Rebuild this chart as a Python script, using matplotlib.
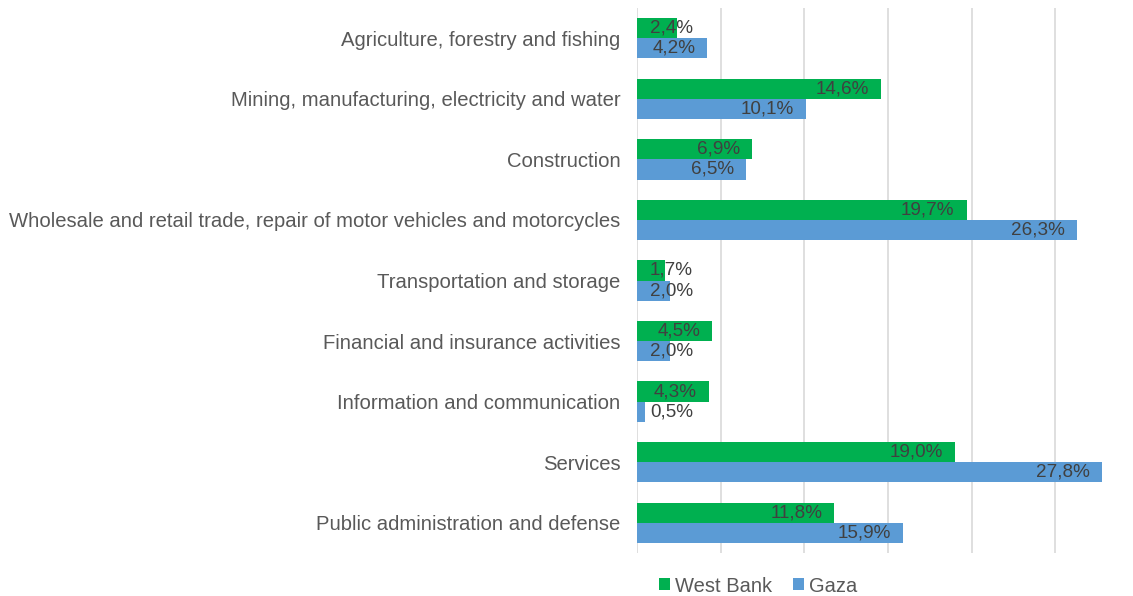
import numpy as np
import matplotlib
matplotlib.use("Agg")
import matplotlib.pyplot as plt

plt.rcParams['font.family'] = ['Liberation Sans', 'DejaVu Sans']

categories = [
    "Agriculture, forestry and fishing",
    "Mining, manufacturing, electricity and water",
    "Construction",
    "Wholesale and retail trade, repair of motor vehicles and motorcycles",
    "Transportation and storage",
    "Financial and insurance activities",
    "Information and communication",
    "Services",
    "Public administration and defense",
]
west_bank = [2.4, 14.6, 6.9, 19.7, 1.7, 4.5, 4.3, 19.0, 11.8]
gaza = [4.2, 10.1, 6.5, 26.3, 2.0, 2.0, 0.5, 27.8, 15.9]
grid_ticks = [0, 5, 10, 15, 20, 25]

GREEN = "#00B050"
BLUE = "#5B9BD5"
W, H = 1133, 596

fig = plt.figure(figsize=(W / 100, H / 100), dpi=100)
ax = fig.add_axes([637 / W, 1 - 553 / H, (1133 - 637) / W, (553 - 8) / H])

y = np.arange(len(categories))
bh = 1 / 3
ax.barh(y - bh / 2, west_bank, height=bh, color=GREEN, label="West Bank", zorder=3)
ax.barh(y + bh / 2, gaza, height=bh, color=BLUE, label="Gaza", zorder=3)

ax.set_xlim(0, 29.65)
ax.set_ylim(len(categories) - 0.5, -0.5)
ax.set_xticks(grid_ticks)
ax.xaxis.grid(True, color="#D9D9D9", linewidth=1.2, zorder=0)
ax.tick_params(axis="x", length=0, labelbottom=False)
ax.tick_params(axis="y", length=0, pad=12, labelsize=14.6, labelcolor="#595959")
ax.set_yticks(y)
ax.set_yticklabels(categories)
for s in ["top", "right", "bottom", "left"]:
    ax.spines[s].set_visible(False)


def fmt(v):
    return f"{v:.1f}".replace(".", ",") + "%"


# value labels at the inside end, kept clear of the axis for short bars
for offs, vals in ((-bh / 2, west_bank), (bh / 2, gaza)):
    for yi, v in zip(y, vals):
        ax.annotate(fmt(v), (max(v, 4.05), yi + offs), xytext=(-8.6, 0),
                    textcoords="offset points", ha="right", va="center",
                    fontsize=13.6, color="#404040", zorder=4)

fig.legend(loc="center", bbox_to_anchor=(758 / W, 1 - 586 / H), ncol=2,
           frameon=False, fontsize=14.5, labelcolor="#595959",
           handlelength=0.55, handleheight=0.55, handletextpad=0.28,
           columnspacing=1.0)

fig.savefig("out.png", dpi=100, facecolor="white")
